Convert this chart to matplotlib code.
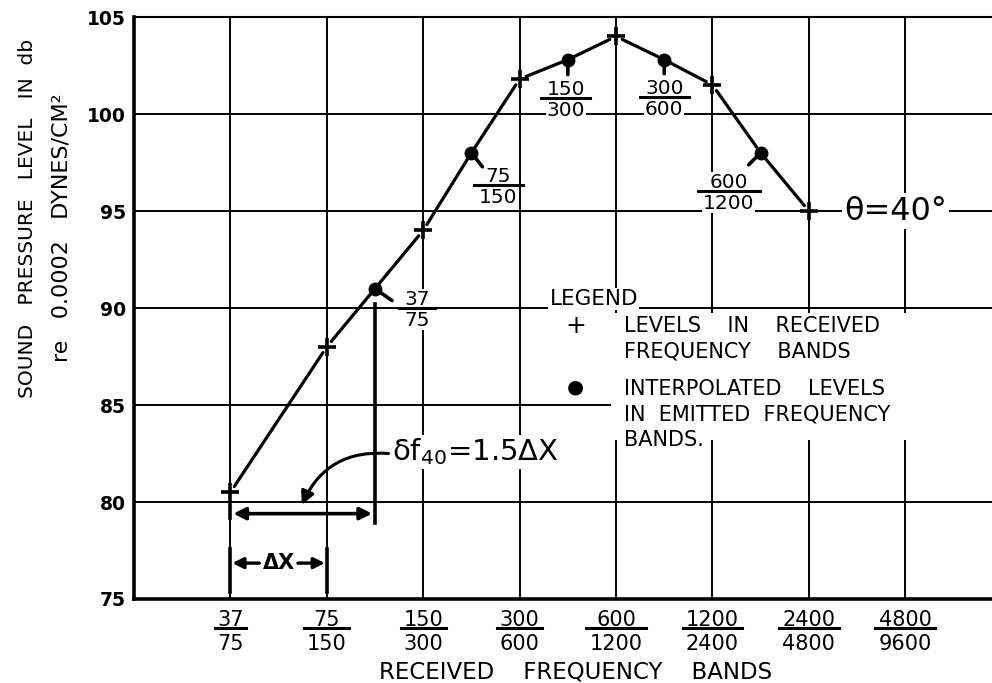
import matplotlib
matplotlib.use("Agg")
import matplotlib.pyplot as plt
from matplotlib.patches import Rectangle
from matplotlib.transforms import offset_copy

# Received frequency bands (lower / upper edge, cps)
band_low = ["37", "75", "150", "300", "600", "1200", "2400", "4800"]
band_high = ["75", "150", "300", "600", "1200", "2400", "4800", "9600"]

# Levels measured in the received bands (db re 0.0002 dynes/cm^2)
received_levels = [80.5, 88.0, 94.0, 101.8, 104.0, 101.5, 95.0]

# Interpolated levels in the emitted bands, shifted by 1.5 band widths
doppler_shift = 1.5
emitted_low = ["37", "75", "150", "300", "600"]
emitted_high = ["75", "150", "300", "600", "1200"]
emitted_levels = [91.0, 98.0, 102.8, 102.8, 98.0]

y_ticks = [75, 80, 85, 90, 95, 100, 105]

plt.rcParams['font.family'] = ['DejaVu Sans']

fig = plt.figure(figsize=(9.92, 6.83), dpi=100)
ax = fig.add_axes([134 / 992, 84 / 683, 1 - 134 / 992, 582 / 683])
ax.set_xlim(-1.0, 7.9)
ax.set_ylim(75, 105)
px = 96.3  # pixels per band along x

# grid
for i in range(len(band_low)):
    ax.axvline(i, color='black', lw=1.4, zorder=1)
for v in y_ticks[1:]:
    ax.axhline(v, color='black', lw=1.4, zorder=1)

ax.spines['right'].set_visible(False)
ax.spines['left'].set_linewidth(2.6)
ax.spines['bottom'].set_linewidth(2.6)
ax.spines['top'].set_linewidth(1.5)
ax.set_xticks([])
ax.set_yticks(y_ticks)
ax.set_yticklabels([str(v) for v in y_ticks], fontsize=13.5, fontweight='bold')
ax.tick_params(axis='y', length=0, pad=6)

# x tick labels drawn as fractions
xt = ax.get_xaxis_transform()
for i, (lo, hi) in enumerate(zip(band_low, band_high)):
    n = max(len(lo), len(hi))
    hw = 0.075 * n + 0.01
    ax.text(i, -0.046, lo, transform=xt, ha='center', va='baseline', fontsize=15)
    ax.plot([i - hw, i + hw], [-0.0505, -0.0505], transform=xt, color='black',
            lw=2.2, clip_on=False)
    ax.text(i, -0.060, hi, transform=xt, ha='center', va='top', fontsize=15)

fig.text(576 / 992, 1 - 672 / 683, "RECEIVED    FREQUENCY    BANDS", ha='center',
         va='center', fontsize=16.5)

fig.text(28 / 992, 1 - 218 / 683, "SOUND   PRESSURE   LEVEL   IN  db", rotation=90,
         ha='center', va='center', fontsize=14.5)
fig.text(62 / 992, 1 - 228 / 683, "re   0.0002   DYNES/CM²", rotation=90,
         ha='center', va='center', fontsize=16)

# curve through received (+) and emitted (dot) levels
received_x = list(range(len(received_levels)))
emitted_x = [i + doppler_shift for i in range(len(emitted_levels))]
pts = sorted(zip(received_x + emitted_x, received_levels + emitted_levels))
for (x1, y1), (x2, y2) in zip(pts[:-1], pts[1:]):
    ax.annotate('', xy=(x2, y2), xytext=(x1, y1),
                arrowprops=dict(arrowstyle='-', lw=2.3, color='black',
                                shrinkA=5, shrinkB=5), zorder=4)

ax.plot(received_x, received_levels, '+', color='black', ms=13, mew=2.6, zorder=5)
ax.plot(emitted_x, emitted_levels, 'o', color='black', ms=9, zorder=5)

# labels of the emitted bands beside each dot: tail (px) and fraction offset (px)
tails = [(17, 12), (11, 14), (0, 15), (0, 14), (-12, 12)]
label_offsets = [(42, 19), (27, 32), (-2, 38), (0, 37), (-32, 38)]
for x, y, lo, hi, (tx, ty), (lx, ly) in zip(emitted_x, emitted_levels, emitted_low,
                                              emitted_high, tails, label_offsets):
    ax.annotate('', xy=(x, y), xytext=(tx * 0.72, -ty * 0.72), textcoords='offset points',
                arrowprops=dict(arrowstyle='-', lw=2.6, color='black',
                                shrinkA=0, shrinkB=0), zorder=5)
    n = max(len(lo), len(hi))
    hw = (6.5 * n + 5) / px
    ax.text(x, y, lo, transform=offset_copy(ax.transData, fig=fig, x=lx, y=-ly + 3,
                                             units='dots'),
            ha='center', va='baseline', fontsize=14.5, zorder=6,
            bbox=dict(facecolor='white', edgecolor='none', pad=0.5))
    ax.text(x, y, hi, transform=offset_copy(ax.transData, fig=fig, x=lx, y=-ly - 3,
                                             units='dots'),
            ha='center', va='top', fontsize=14.5, zorder=6,
            bbox=dict(facecolor='white', edgecolor='none', pad=0.5))
    bar_tr = offset_copy(ax.transData, fig=fig, x=lx, y=-ly, units='dots')
    ax.plot([x - hw, x + hw], [y, y], transform=bar_tr, color='black', lw=2.2,
            zorder=7, clip_on=False)

ax.text(6.37, 95, "θ=40°", ha='left', va='center', fontsize=23,
        zorder=6, bbox=dict(facecolor='white', edgecolor='none', pad=1.5))

# legend block
ax.add_patch(Rectangle((3.95, 83.2), 4.0, 6.55, facecolor='white', edgecolor='none',
                       zorder=2))
ax.text(3.31, 90.46, "LEGEND", ha='left', va='center', fontsize=15.5, zorder=6,
        bbox=dict(facecolor='white', edgecolor='none', pad=1))
ax.text(3.58, 89.07, "+", ha='center', va='center', fontsize=18, zorder=6)
ax.text(4.08, 88.4, "LEVELS    IN    RECEIVED\nFREQUENCY    BANDS", ha='left',
        va='center', fontsize=15, linespacing=1.35, zorder=6)
ax.text(3.58, 85.93, "●", ha='center', va='center', fontsize=14, zorder=6)
ax.text(4.08, 84.5, "INTERPOLATED    LEVELS\nIN  EMITTED  FREQUENCY\nBANDS.",
        ha='left', va='center', fontsize=15, linespacing=1.35, zorder=6)

# band shift construction
ax.plot([doppler_shift, doppler_shift], [90.2, 78.9], color='black', lw=2.6, zorder=4)
ax.plot([0, 0], [79.95, 79.2], color='black', lw=2.6, zorder=4)
ax.annotate('', xy=(0.03, 79.4), xytext=(1.47, 79.4),
            arrowprops=dict(arrowstyle='<|-|>', lw=2.6, color='black',
                            mutation_scale=18, shrinkA=0, shrinkB=0), zorder=5)
ax.text(1.68, 82.58, "δf$_{40}$=1.5ΔX", ha='left', va='center', fontsize=21,
        zorder=6, bbox=dict(facecolor='white', edgecolor='none', pad=1))
ax.annotate('', xy=(0.74, 79.85), xytext=(1.64, 82.5),
            arrowprops=dict(arrowstyle='-|>', lw=2.2, color='black',
                            mutation_scale=20, connectionstyle='arc3,rad=0.35',
                            shrinkA=0, shrinkB=0), zorder=5)

# delta X dimension
for xb in (0, 1):
    ax.plot([xb, xb], [77.6, 75.35], color='black', lw=2.6, zorder=4)
ax.text(0.5, 76.85, "ΔX", ha='center', va='center', fontsize=15, fontweight='bold',
        zorder=6, bbox=dict(facecolor='white', edgecolor='none', pad=0.5))
ax.annotate('', xy=(0.02, 76.85), xytext=(0.3, 76.85),
            arrowprops=dict(arrowstyle='-|>', lw=2.4, color='black',
                            mutation_scale=16, shrinkA=0, shrinkB=0), zorder=5)
ax.annotate('', xy=(0.98, 76.85), xytext=(0.7, 76.85),
            arrowprops=dict(arrowstyle='-|>', lw=2.4, color='black',
                            mutation_scale=16, shrinkA=0, shrinkB=0), zorder=5)

fig.savefig("out.png", dpi=100)
